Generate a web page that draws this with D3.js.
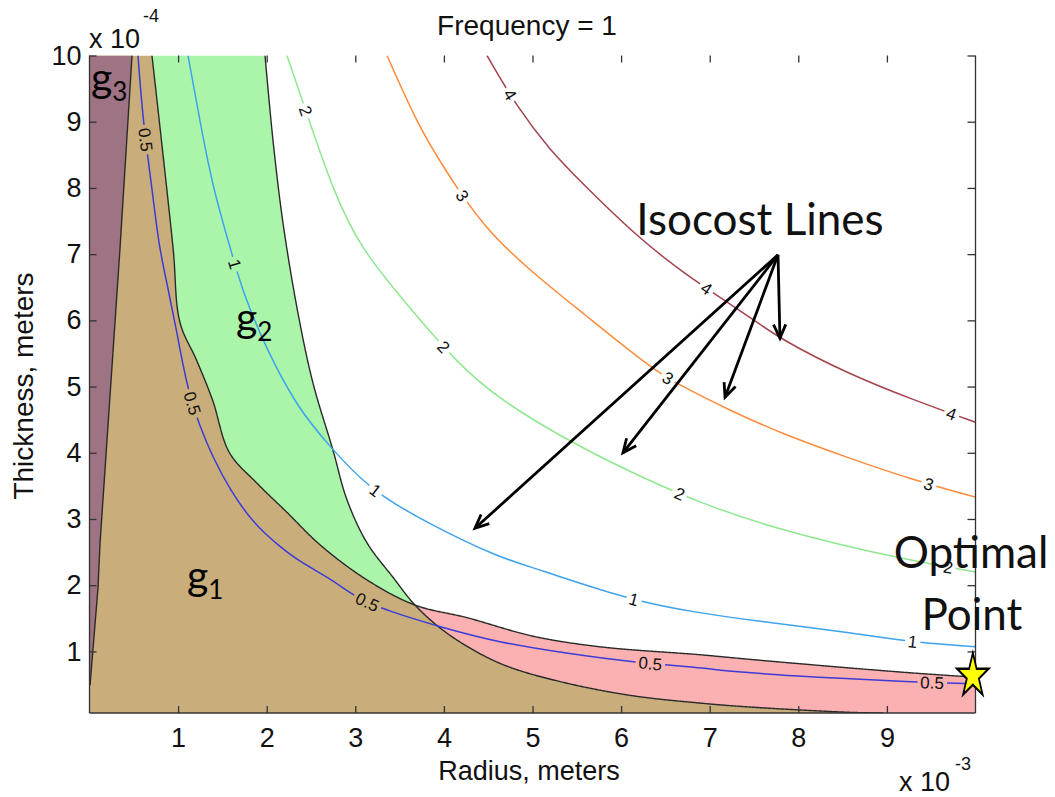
<!DOCTYPE html>
<html><head><meta charset="utf-8">
<script src="https://cdn.jsdelivr.net/npm/d3@7"></script>
<style>body{margin:0;background:#fff} svg{display:block}</style>
</head><body>
<svg id="chart" width="1055" height="797"></svg>
<script>
// ---------- data (radius in 1e-3 m, thickness in 1e-4 m) ----------
const xTicks = [1, 2, 3, 4, 5, 6, 7, 8, 9];
const yTicks = [1, 2, 3, 4, 5, 6, 7, 8, 9, 10];
const xDomain = [0, 10];
const yDomain = [0.07, 10];

// constraint boundaries
const g1Boundary = [[0.705,10.0],[0.942,7.11],[1.021,5.97],[1.208,5.40],[1.388,4.80],[1.580,4.00],[1.891,3.54],[2.229,3.10],[2.602,2.61],[3.132,2.08],[3.674,1.70],[4.261,1.51],[5.006,1.23],[5.762,1.07],[6.890,0.95],[7.455,0.88],[8.583,0.75],[9.339,0.67],[10,0.61]];
const g2Boundary = [[1.981,10.0],[2.071,8.72],[2.184,7.47],[2.353,6.11],[2.523,5.05],[2.748,4.04],[2.906,3.29],[3.132,2.64],[3.425,2.12],[3.674,1.70],[3.990,1.32],[4.374,0.99],[4.746,0.76],[5.389,0.52],[6.134,0.33],[6.890,0.22],[7.455,0.16],[8.583,0.08],[8.956,0.07]];
const g3Boundary = [[0.480,10.0],[0.344,7.08],[0.119,2.64],[0.096,1.96],[0.006,0.49]];
const crossing = [3.674, 1.70];

// isocost contour lines
const isoLevels = [0.5, 1, 2, 3, 4];
const iso05 = [[0.547,10.0],[0.604,9.00],[0.705,8.00],[0.784,7.11],[0.875,6.56],[0.988,5.81],[1.100,4.99],[1.247,4.39],[1.393,3.93],[1.585,3.44],[1.845,2.94],[2.150,2.58],[2.376,2.35],[2.748,2.08],[2.996,1.82],[3.369,1.61],[3.956,1.37],[4.633,1.13],[5.389,0.97],[6.100,0.84],[6.890,0.76],[7.263,0.69],[8.211,0.61],[9.261,0.54],[10,0.51]];
const iso1  = [[1.112,10.0],[1.247,9.00],[1.393,8.00],[1.585,7.11],[1.733,6.41],[2.003,5.55],[2.342,4.69],[2.714,4.09],[3.166,3.44],[3.809,2.94],[4.633,2.41],[5.006,2.27],[6.101,1.77],[6.890,1.58],[7.455,1.47],[8.583,1.29],[9.260,1.14],[10,1.07]];
const iso2  = [[2.229,10.0],[2.489,8.98],[2.748,7.97],[3.053,7.10],[3.538,6.31],[4.148,5.35],[4.633,4.80],[5.389,4.19],[6.134,3.69],[6.890,3.24],[7.793,2.83],[9.069,2.42],[10,2.20]];
const iso3  = [[3.358,10.0],[3.696,8.98],[3.990,8.32],[4.441,7.41],[5.006,6.71],[5.570,6.11],[6.326,5.29],[6.659,5.02],[7.229,4.64],[7.793,4.30],[8.549,3.93],[9.294,3.59],[10,3.33]];
const iso4  = [[4.486,10.0],[4.825,9.22],[5.197,8.57],[5.570,8.06],[6.134,7.32],[6.699,6.71],[7.455,6.05],[7.793,5.72],[8.549,5.20],[9.294,4.80],[10,4.46]];
const isoLines = [iso05, iso1, iso2, iso3, iso4];

// contour label anchor positions
const lab05 = [[0.560,8.72],[1.134,4.74],[3.132,1.73],[6.326,0.78],[9.508,0.50]];
const lab1  = [[1.577,6.82],[3.200,3.39],[6.134,1.73],[9.282,1.08]];
const lab2  = [[2.376,9.13],[3.956,5.55],[6.631,3.29],[9.689,2.25]];
const lab3  = [[4.182,7.86],[6.518,5.10],[9.452,3.44]];
const lab4  = [[4.712,9.38],[6.913,6.38],[9.712,4.52]];
const isoLabelPos = [lab05, lab1, lab2, lab3, lab4];

const optimalPoint = [9.97, 0.63];
const arrowOrigin = [7.771, 6.99];
const arrowTips = [[4.351,2.86],[6.021,4.00],[7.173,4.84],[7.793,5.73]];

// ---------- styling ----------
const isoColors = ["#3b3bd8", "#3ea3ec", "#8fe88f", "#ff8a3a", "#a3434f"];
const fillTan = "#c9ae7b", fillGreen = "#aaf5aa", fillPink = "#fbb1b1", fillMauve = "#9e7383";
const axisColor = "#333";
const mlFont = "'Liberation Sans', Arial, sans-serif";
const annFont = "Lato, 'Open Sans', sans-serif";

const svg = d3.select("#chart");
const x = d3.scaleLinear().domain(xDomain).range([89.5, 975.5]);
const y = d3.scaleLinear().domain(yDomain).range([713, 55.5]);
const [x0, x1] = x.range(), [y0, y1] = y.range();

svg.append("clipPath").attr("id", "plotclip").append("rect")
  .attr("x", x0).attr("y", y1).attr("width", x1 - x0).attr("height", y0 - y1);

const plot = svg.append("g").attr("clip-path", "url(#plotclip)");

// sample a smoothed boundary into pixel points
function sampled(pts, curve) {
  const d = d3.line().x(p => x(p[0])).y(p => y(p[1])).curve(curve)(pts);
  const tmp = svg.append("path").attr("d", d);
  const n = tmp.node(), L = n.getTotalLength(), out = [];
  for (let l = 0; l < L; l += 1) { const q = n.getPointAtLength(l); out.push([q.x, q.y]); }
  const e = pts[pts.length - 1]; out.push([x(e[0]), y(e[1])]);
  tmp.remove();
  return out;
}
const bCurve = d3.curveCatmullRom.alpha(0.5);
const A = sampled(g1Boundary, bCurve);
const B = sampled(g2Boundary, bCurve);
const C = g3Boundary.map(p => [x(p[0]), y(p[1])]);
const cpx = x(crossing[0]), cpy = y(crossing[1]);
const aLeft = A.filter(p => p[0] < cpx), aRight = A.filter(p => p[0] > cpx);
const bLeft = B.filter(p => p[0] < cpx), bRight = B.filter(p => p[0] > cpx);
const cp = [cpx, cpy];
const pxLine = d3.line();
const poly = pts => pxLine(pts) + "Z";
const yLo = y(yDomain[0]), yHi = y(yDomain[1]);

// tan: g1 and g2 both violated
plot.append("path").attr("d", poly([[x0, yLo], [x0, yHi], ...aLeft, cp, ...bRight])).attr("fill", fillTan);
// green: only g2 violated
plot.append("path").attr("d", poly([...aLeft, cp, ...bLeft.slice().reverse()])).attr("fill", fillGreen);
// pink: only g1 violated
plot.append("path").attr("d", poly([cp, ...aRight, [x1, yLo], ...bRight.slice().reverse()])).attr("fill", fillPink);
// mauve: g3 violated
plot.append("path").attr("d", poly([[x0, yHi], ...C, [x0, C[C.length - 1][1]]])).attr("fill", fillMauve);

// boundary lines
[A, B, C].forEach(b => {
  plot.append("path").attr("d", pxLine(b)).attr("fill", "none").attr("stroke", "#2a2a2a").attr("stroke-width", 1.4);
});

// isocost contours with labels
const smooth = d3.line().x(d => x(d[0])).y(d => y(d[1])).curve(d3.curveBasis);
const labG = svg.append("g");
isoLines.forEach((pts, i) => {
  const p = plot.append("path").attr("d", smooth(pts)).attr("fill", "none")
    .attr("stroke", isoColors[i]).attr("stroke-width", 1.5);
  const node = p.node();
  const L = node.getTotalLength();
  const samples = [];
  for (let l = 0; l <= L; l += 0.5) { const q = node.getPointAtLength(l); samples.push([l, q.x, q.y]); }
  const gaps = [];
  isoLabelPos[i].forEach(lp => {
    const px = x(lp[0]), py = y(lp[1]);
    let best = samples[0], bd = Infinity;
    samples.forEach(s => { const d = (s[1] - px) ** 2 + (s[2] - py) ** 2; if (d < bd) { bd = d; best = s; } });
    const l0 = best[0];
    const a = node.getPointAtLength(Math.max(0, l0 - 6)), b = node.getPointAtLength(Math.min(L, l0 + 6));
    let ang = Math.atan2(b.y - a.y, b.x - a.x) * 180 / Math.PI;
    if (ang > 90) ang -= 180; if (ang < -90) ang += 180;
    const t = labG.append("text")
      .attr("transform", `translate(${best[1]},${best[2]}) rotate(${ang})`)
      .attr("text-anchor", "middle").attr("dy", "0.36em")
      .attr("font-family", mlFont).attr("font-size", 17).attr("fill", "#111")
      .text(String(isoLevels[i]));
    const w = t.node().getComputedTextLength();
    gaps.push([l0 - w / 2 - 3, l0 + w / 2 + 3]);
  });
  gaps.sort((u, v) => u[0] - v[0]);
  let pos = 0; const arr = [];
  gaps.forEach(g => { const s = Math.max(g[0], pos); arr.push(Math.max(0, s - pos), Math.max(0, g[1] - s)); pos = g[1]; });
  arr.push(Math.max(0, L - pos) + 1, L + 10);
  p.attr("stroke-dasharray", arr.join(","));
});

// ---------- axes ----------
const ax = svg.append("g").attr("fill", "none").attr("stroke", axisColor).attr("stroke-width", 1.3);
ax.append("line").attr("x1", x0).attr("x2", x0).attr("y1", y1).attr("y2", y0);
ax.append("line").attr("x1", x0).attr("x2", x1).attr("y1", y0).attr("y2", y0);
ax.append("line").attr("x1", x1).attr("x2", x1).attr("y1", y1).attr("y2", y0);

function styleAxis(g) {
  g.select(".domain").remove();
  g.selectAll(".tick line").attr("stroke", axisColor).attr("stroke-width", 1.3);
  g.selectAll(".tick text").attr("font-family", mlFont).attr("font-size", 27).attr("fill", "#111");
}
svg.append("g").attr("transform", `translate(0,${y0})`)
  .call(d3.axisBottom(x).tickValues(xTicks).tickSizeInner(-7).tickSizeOuter(0).tickPadding(15).tickFormat(d3.format("d")))
  .call(styleAxis);
svg.append("g").attr("transform", `translate(${x0},0)`)
  .call(d3.axisLeft(y).tickValues(yTicks).tickSizeInner(-7).tickSizeOuter(0).tickPadding(8).tickFormat(d3.format("d")))
  .call(styleAxis);
svg.append("g").attr("transform", `translate(${x1},0)`)
  .call(d3.axisRight(y).tickValues(yTicks).tickSizeInner(-8).tickSizeOuter(0).tickFormat(""))
  .call(styleAxis);
svg.append("g").attr("transform", `translate(0,${y1})`)
  .call(d3.axisTop(x).tickValues(xTicks).tickSizeInner(-7).tickSizeOuter(0).tickFormat(""))
  .call(styleAxis);

// axis texts
const txt = (s, xx, yy, size, opts = {}) => svg.append("text").attr("x", xx).attr("y", yy)
  .attr("font-family", opts.font || mlFont).attr("font-size", size).attr("fill", "#111")
  .attr("text-anchor", opts.anchor || "start").text(s);
txt("Frequency = 1", 527, 35, 28, { anchor: "middle" });
txt("Radius, meters", 529, 780, 27, { anchor: "middle" });
svg.append("text").attr("transform", "translate(33,386) rotate(-90)")
  .attr("font-family", mlFont).attr("font-size", 28).attr("fill", "#111").attr("text-anchor", "middle")
  .text("Thickness, meters");
txt("x 10", 89, 48, 27);
txt("-4", 143, 22, 18);
txt("x 10", 899, 791, 27);
txt("-3", 955, 770, 18);

// ---------- annotations ----------
const gLabel = (main, sub, xx, yy) => {
  const t = svg.append("text").attr("x", xx).attr("y", yy).attr("font-family", annFont)
    .attr("font-size", 41).attr("fill", "#000");
  t.append("tspan").text(main);
  t.append("tspan").attr("font-size", 26).attr("dy", 9).text(sub);
};
gLabel("g", "3", 91, 92);
gLabel("g", "2", 236, 332);
gLabel("g", "1", 187, 590);

txt("Isocost Lines", 760, 235, 44, { anchor: "middle", font: annFont });
txt("Optimal", 971, 568, 44, { anchor: "middle", font: annFont });
txt("Point", 972, 630, 44, { anchor: "middle", font: annFont });

// arrows
const arr = svg.append("g").attr("stroke", "#000").attr("stroke-width", 2.8).attr("fill", "none");
const ox = x(arrowOrigin[0]), oy = y(arrowOrigin[1]);
arrowTips.forEach(t => {
  const tx = x(t[0]), ty = y(t[1]);
  arr.append("line").attr("x1", ox).attr("y1", oy).attr("x2", tx).attr("y2", ty);
  const th = Math.atan2(ty - oy, tx - ox), hl = 15, ha = 0.42;
  const p1 = [tx - hl * Math.cos(th - ha), ty - hl * Math.sin(th - ha)];
  const p2 = [tx - hl * Math.cos(th + ha), ty - hl * Math.sin(th + ha)];
  arr.append("path").attr("d", `M${p1}L${tx},${ty}L${p2}`);
});

// optimal point star
svg.append("path")
  .attr("d", d3.symbol(d3.symbolStar, 600)())
  .attr("transform", `translate(${x(optimalPoint[0])},${y(optimalPoint[1])}) scale(0.72,1)`)
  .attr("fill", "#ffff00").attr("stroke", "#000").attr("stroke-width", 2.4);
</script>
</body></html>
